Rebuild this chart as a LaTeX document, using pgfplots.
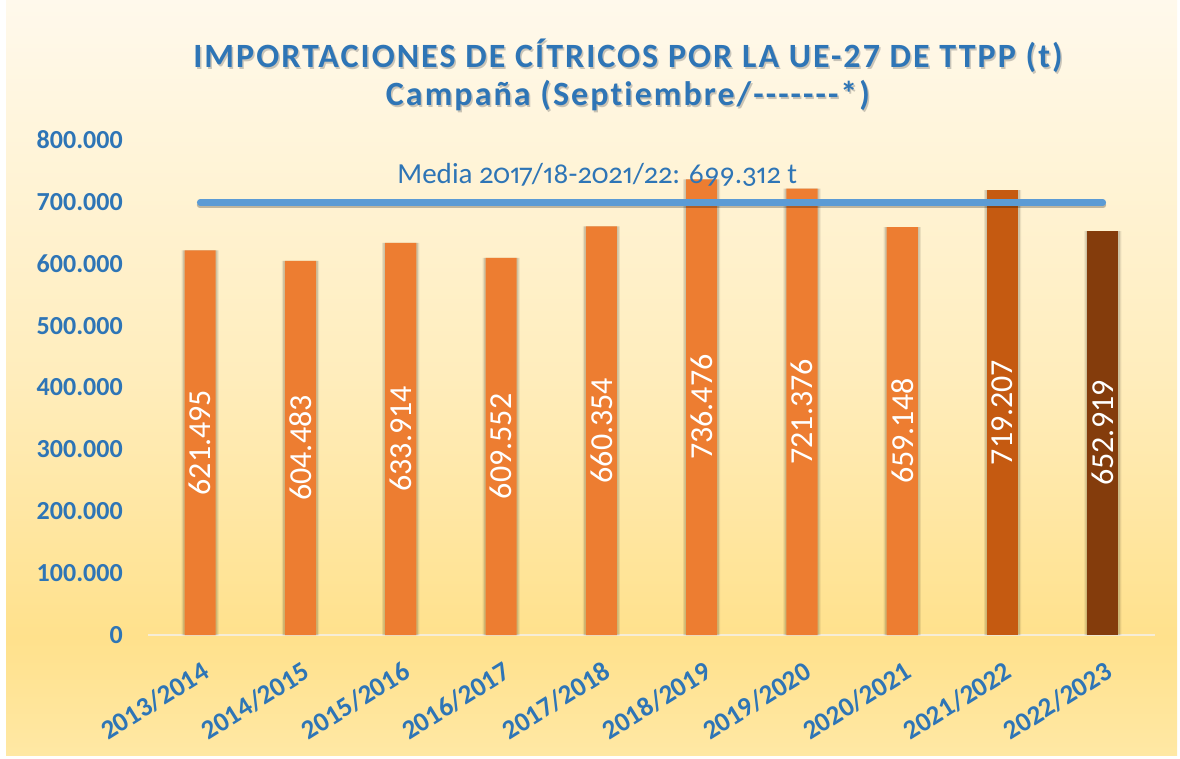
\documentclass[border=0pt]{standalone}
\usepackage{pgfplots}
\pgfplotsset{compat=1.18}
\usepackage{pgfplotstable}
\usepackage{fontspec}
\setmainfont[Ligatures=NoCommon]{Carlito}
\newfontfamily\titlefont[LetterSpace=6,Ligatures=NoCommon]{Carlito}
\newfontfamily\mediafont[Numbers={OldStyle,Proportional},Ligatures=NoCommon]{Carlito}
\definecolor{tblue}{HTML}{2E75B6}
\definecolor{lblue}{HTML}{5B9BD5}
\definecolor{bar1}{HTML}{ED7D31}
\definecolor{bar2}{HTML}{C55A11}
\definecolor{bar3}{HTML}{843C0C}
\definecolor{axl}{HTML}{F6EDD6}
\definecolor{bgA}{HTML}{FFE8A4}
\definecolor{bgB}{HTML}{FFE18C}
\definecolor{bgC}{HTML}{FFEDBC}
\definecolor{bgD}{HTML}{FFF9EC}
\pgfdeclareverticalshading{bgshade}{100bp}{color(0bp)=(bgA); color(25bp)=(bgA); color(32.8bp)=(bgB); color(50bp)=(bgC); color(75bp)=(bgD); color(100bp)=(bgD)}

\pgfplotstableread{
x v lab
0 621495 621.495
1 604483 604.483
2 633914 633.914
3 609552 609.552
4 660354 660.354
5 736476 736.476
6 721376 721.376
7 659148 659.148
8 719207 719.207
9 652919 652.919
}\data
\pgfplotstableread{
x v
0 621495
1 604483
2 633914
3 609552
4 660354
5 736476
6 721376
7 659148
}\dataA
\pgfplotstableread{
x v
8 719207
}\dataB
\pgfplotstableread{
x v
9 652919
}\dataC

\begin{document}
\begin{tikzpicture}[x=0.75pt,y=0.75pt]
\fill[white] (0,0) rectangle (1180,758);
\shade[shading=bgshade] (6,3) rectangle (1177,758);
\useasboundingbox (0,0) rectangle (1180,758);
% title
\node[anchor=base, text=black!60, opacity=0.35, font=\titlefont\fontsize{25.5}{30}\selectfont\bfseries] at (629.5,688.5) {IMPORTACIONES DE CÍTRICOS POR LA UE-27 DE TTPP (t)};
\node[anchor=base, text=tblue, font=\titlefont\fontsize{25.5}{30}\selectfont\bfseries] at (628,690) {IMPORTACIONES DE CÍTRICOS POR LA UE-27 DE TTPP (t)};
\node[anchor=base, text=black!60, opacity=0.35, font=\titlefont\fontsize{25.5}{30}\selectfont\bfseries] at (629.5,650.5) {Campaña (Septiembre/-------*)};
\node[anchor=base, text=tblue, font=\titlefont\fontsize{25.5}{30}\selectfont\bfseries] at (628,652) {Campaña (Septiembre/-------*)};
\begin{axis}[
  at={(111pt,92.25pt)}, anchor=south west,
  scale only axis, width=755.25pt, height=371.25pt,
  xmin=-0.52, xmax=9.52, ymin=0, ymax=800000,
  axis x line*=bottom, axis y line*=left,
  x axis line style={draw=axl, line width=1.2pt},
  y axis line style={draw=none},
  xtick={0,...,9},
  xticklabels={2013/2014,2014/2015,2015/2016,2016/2017,2017/2018,2018/2019,2019/2020,2020/2021,2021/2022,2022/2023},
  ytick={0,100000,...,800000},
  major tick length=0pt,
  tick style={draw=none},
  scaled y ticks=false,
  /pgf/number format/fixed,
  /pgf/number format/precision=0,
  /pgf/number format/1000 sep={.},
  /pgf/number format/assume math mode=true,
  yticklabel style={anchor=east, inner sep=0pt, xshift=-18.75pt, text=tblue, font=\fontsize{19.5}{23}\selectfont\bfseries},
  xticklabel style={xshift=0.75pt, yshift=-18.75pt, rotate=32, anchor=north east, inner sep=0pt, text=tblue, font=\fontsize{20.3}{24}\selectfont\bfseries},
  clip=false,
]
\addplot[ybar, bar width=0.37, bar shift=0pt, fill=black, draw=none, opacity=0.08] table[x=x,y=v]{\data};
\addplot[ybar, bar width=0.345, bar shift=0pt, fill=black, draw=none, opacity=0.12] table[x=x,y=v]{\data};
\addplot[ybar, bar width=0.31, bar shift=0pt, fill=bar1, draw=none] table[x=x,y=v]{\dataA};
\addplot[ybar, bar width=0.31, bar shift=0pt, fill=bar2, draw=none] table[x=x,y=v]{\dataB};
\addplot[ybar, bar width=0.31, bar shift=0pt, fill=bar3, draw=none] table[x=x,y=v]{\dataC};
\addplot[black, opacity=0.25, line width=5pt, line cap=round, yshift=-2pt, forget plot] coordinates {(0,699312) (9,699312)};
\addplot[lblue, line width=4.8pt, line cap=round] coordinates {(0,699312) (9,699312)};
\node[anchor=base west, inner sep=0pt, text=tblue, font=\mediafont\fontsize{21.8}{26}\selectfont] at (axis cs:1.964,730505) {Media 2017/18-2021/22: 699.312 t};
\addplot[draw=none, mark=none, nodes near coords, point meta=explicit symbolic,
  every node near coord/.append style={rotate=90, anchor=center, inner sep=0pt, text=white, font=\fontsize{24}{28}\selectfont}]
  table[x=x, y expr=\thisrow{v}/2, meta=lab]{\data};
\end{axis}
\end{tikzpicture}
\end{document}
